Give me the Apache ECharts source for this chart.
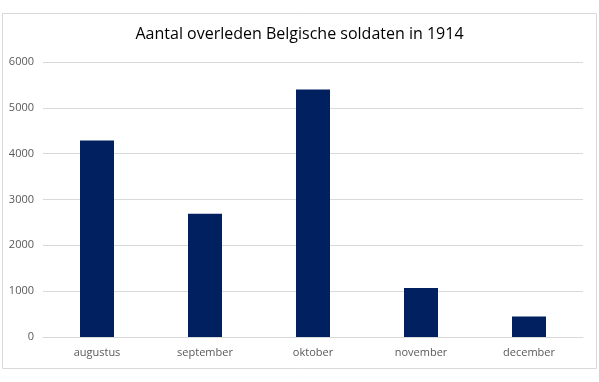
<!DOCTYPE html>
<html><head><meta charset="utf-8">
<script src="https://cdn.jsdelivr.net/npm/echarts@6/dist/echarts.min.js"></script>
<style>html,body{margin:0;padding:0;background:#fff}#c{width:599px;height:382px}</style>
</head><body><div id="c"></div>
<script>
const titleText = 'Aantal overleden Belgische soldaten in 1914';
const categories = ['augustus', 'september', 'oktober', 'november', 'december'];
const values = [4290, 2690, 5400, 1070, 445];
const yTicks = {min: 0, max: 6000, interval: 1000};

const chart = echarts.init(document.getElementById('c'), null, {renderer: 'canvas'});
chart.setOption({
  animation: false,
  backgroundColor: '#fff',
  title: {
    text: titleText, left: 'center', top: 21,
    textStyle: {fontFamily: 'Open Sans', fontSize: 16, fontWeight: 'normal', color: '#000'}
  },
  graphic: [{
    type: 'rect', shape: {x: 2.5, y: 13.5, width: 594, height: 355},
    style: {fill: 'none', stroke: '#d9d9d9', lineWidth: 1}, silent: true
  }],
  grid: {left: 43, right: 16, top: 62, bottom: 45, containLabel: false},
  xAxis: {
    type: 'category', data: categories,
    axisLine: {lineStyle: {color: '#d9d9d9'}},
    axisTick: {show: false},
    axisLabel: {color: '#595959', fontFamily: 'Open Sans', fontSize: 11, margin: 10}
  },
  yAxis: {
    type: 'value', min: yTicks.min, max: yTicks.max, interval: yTicks.interval,
    axisLine: {show: false}, axisTick: {show: false},
    splitLine: {lineStyle: {color: '#d9d9d9'}},
    axisLabel: {color: '#595959', fontFamily: 'Open Sans', fontSize: 11, margin: 9,
      formatter: v => String(v)}
  },
  series: [{
    type: 'bar', data: values, barWidth: 34,
    itemStyle: {color: '#002060'}
  }]
});
</script></body></html>
